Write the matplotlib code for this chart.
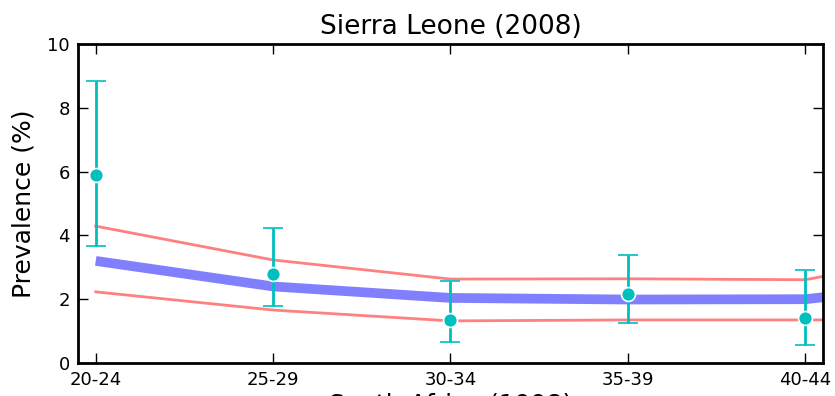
import matplotlib
matplotlib.use("Agg")
import matplotlib.pyplot as plt
import numpy as np

age_groups = ["20-24", "25-29", "30-34", "35-39", "40-44", "45-49"]
tick_labels = ["20-24", "25-29", "30-34", "35-39", "40-44"]
model_mean = [3.20, 2.40, 2.04, 1.99, 2.00, 2.60]
model_upper = [4.29, 3.23, 2.63, 2.64, 2.61, 3.65]
model_lower = [2.23, 1.66, 1.32, 1.35, 1.35, 1.36]
obs = [5.89, 2.79, 1.35, 2.17, 1.42]
obs_upper = [8.84, 4.22, 2.56, 3.38, 2.92]
obs_lower = [3.67, 1.79, 0.66, 1.25, 0.57]

fig = plt.figure(figsize=(8.35, 3.96), dpi=100)
ax = fig.add_axes([0.0934, 0.0833, 0.8922, 0.8057])

x = np.arange(len(age_groups))
ax.plot(x, model_mean, color="#8080ff", lw=7, solid_capstyle="butt", zorder=2)
ax.plot(x, model_upper, color="#ff8080", lw=2, zorder=2)
ax.plot(x, model_lower, color="#ff8080", lw=2, zorder=2)

xo = np.arange(len(obs))
yerr = [np.array(obs) - np.array(obs_lower), np.array(obs_upper) - np.array(obs)]
ax.errorbar(xo, obs, yerr=yerr, fmt="o", color="#00bfbf", ecolor="#00bfbf",
            elinewidth=2, capsize=7, capthick=2, markersize=10,
            markeredgecolor="white", markeredgewidth=1.2, zorder=3)

ax.set_xlim(-0.1, 4.1)
ax.set_ylim(0, 10)
ax.set_xticks(np.arange(len(tick_labels)))
ax.set_xticklabels(tick_labels)
ax.set_yticks([0, 2, 4, 6, 8, 10])
ax.tick_params(direction="in", length=7, width=1, labelsize=13,
               top=True, right=True, pad=6)
for s in ax.spines.values():
    s.set_linewidth(2)

ax.set_title("Sierra Leone (2008)", fontsize=19, pad=7)
ax.set_ylabel("Prevalence (%)", fontsize=18, labelpad=8)
ax.set_xlabel("South Africa (1998)", fontsize=18, labelpad=2)

fig.savefig("out.png", dpi=100)
